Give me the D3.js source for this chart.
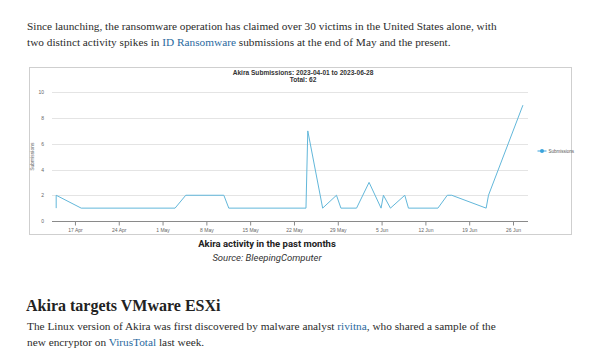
<!DOCTYPE html>
<html>
<head>
<meta charset="utf-8">
<script src="https://cdn.jsdelivr.net/npm/d3@7"></script>
<style>
  body { margin: 0; background: #fff; }
  svg { display: block; }
</style>
</head>
<body>
<svg id="page" width="590" height="355"></svg>
<script>
// submissions per reading (timestamps)
const sampleTimes = ["2023-04-14T00:00", "2023-04-14T00:00", "2023-04-18T00:00", "2023-05-03T00:00",
  "2023-05-04T17:00", "2023-05-10T19:00", "2023-05-11T14:00", "2023-05-23T22:00", "2023-05-24T05:00",
  "2023-05-26T14:00", "2023-05-28T19:00", "2023-05-29T12:00", "2023-06-01T00:00", "2023-06-03T00:00",
  "2023-06-04T22:00", "2023-06-05T07:00", "2023-06-06T10:00", "2023-06-08T17:00", "2023-06-09T07:00",
  "2023-06-14T00:00", "2023-06-15T12:00", "2023-06-16T05:00", "2023-06-21T17:00", "2023-06-22T02:00",
  "2023-06-27T14:00"];
const submissions = [1, 2, 1, 1, 2, 2, 1, 1, 7, 1, 2, 1, 1, 3, 1, 2, 1, 2, 1, 1, 2, 2, 1, 2, 9];
const yTicks = [0, 2, 4, 6, 8, 10];
const seriesName = "Submissions";
const chartTitle = ["Akira Submissions: 2023-04-01 to 2023-06-28", "Total: 62"];

const parseTime = d3.timeParse("%Y-%m-%dT%H:%M");
const data = sampleTimes.map((t, i) => ({ date: parseTime(t), value: submissions[i] }));

const svg = d3.select("#page");
svg.append("rect").attr("width", 590).attr("height", 355).attr("fill", "#fff");

const serif = "Georgia, 'Liberation Serif', serif";
const textColor = "#2b2b2b";
const linkColor = "#2a6aa0";

// article paragraph text
function para(y, parts, size) {
  const t = svg.append("text").attr("x", 27).attr("y", y)
    .style("font-family", serif).style("font-size", size + "px").attr("fill", textColor);
  parts.forEach(p => {
    t.append("tspan").attr("fill", p[1] ? linkColor : textColor).text(p[0]);
  });
}
para(30, [["Since launching, the ransomware operation has claimed over 30 victims in the United States alone, with"]], 11.3);
para(46, [["two distinct activity spikes in "], ["ID Ransomware", true], [" submissions at the end of May and the present."]], 11.3);

// chart frame
svg.append("rect").attr("x", 29.5).attr("y", 67.5).attr("width", 542).attr("height", 167)
  .attr("fill", "#fff").attr("stroke", "#cfcfcf").attr("stroke-width", 1);

const margin = { left: 52, right: 528, top: 92.3, bottom: 221 };

const x = d3.scaleTime()
  .domain([parseTime("2023-04-13T08:00"), parseTime("2023-06-28T09:30")])
  .range([margin.left, margin.right]);
const y = d3.scaleLinear().domain([0, 10]).range([margin.bottom, margin.top]);

// grid
svg.append("g")
  .selectAll("line").data(yTicks).join("line")
  .attr("x1", margin.left).attr("x2", margin.right)
  .attr("y1", d => Math.round(y(d)) + 0.5).attr("y2", d => Math.round(y(d)) + 0.5)
  .attr("stroke", "#e4e4e4");

// y axis labels
const yAxis = d3.axisLeft(y).tickValues(yTicks).tickSize(0).tickPadding(0);
const gy = svg.append("g").attr("transform", `translate(${margin.left - 8},0)`).call(yAxis);
gy.select(".domain").remove();
gy.selectAll("text").style("font-family", "'Liberation Sans', Arial, sans-serif")
  .style("font-size", "5px").attr("fill", "#666");

// x axis
const xAxis = d3.axisBottom(x)
  .ticks(d3.timeMonday.every(1))
  .tickFormat(d3.timeFormat("%-d %b"))
  .tickSize(4).tickPadding(3);
const gx = svg.append("g").attr("transform", `translate(0,${Math.round(y(0)) + 0.5})`).call(xAxis);
gx.select(".domain").attr("stroke", "#8a8a8a").attr("d", `M${margin.left},0H${margin.right}`);
gx.selectAll(".tick line").attr("stroke", "#8a8a8a");
gx.selectAll("text").style("font-family", "'Liberation Sans', Arial, sans-serif")
  .style("font-size", "5px").attr("fill", "#666");

// y label
svg.append("text")
  .attr("transform", `translate(34,${(margin.top + margin.bottom) / 2}) rotate(-90)`)
  .attr("text-anchor", "middle")
  .style("font-family", "'Liberation Sans', Arial, sans-serif").style("font-size", "5px")
  .attr("fill", "#666").text(seriesName);

// line
const line = d3.line().x(d => x(d.date)).y(d => y(d.value));
svg.append("path").datum(data)
  .attr("fill", "none").attr("stroke", "#62b7da").attr("stroke-width", 1)
  .attr("d", line);

// title
svg.append("g").selectAll("text").data(chartTitle).join("text")
  .attr("x", 303).attr("y", (d, i) => 75 + i * 6.8)
  .attr("text-anchor", "middle")
  .style("font-family", "'Liberation Sans', Arial, sans-serif").style("font-size", "6.6px")
  .style("font-weight", "bold").attr("fill", "#333").text(d => d);

// legend
const lg = svg.append("g").attr("transform", "translate(542,151)");
lg.append("line").attr("x1", -4.5).attr("x2", 4.5).attr("stroke", "#3aa3dc").attr("stroke-width", 1);
lg.append("circle").attr("r", 2).attr("fill", "#3aa3dc");
lg.append("text").attr("x", 6.5).attr("y", 1.6)
  .style("font-family", "'Liberation Sans', Arial, sans-serif").style("font-size", "4.5px")
  .attr("fill", "#555").text(seriesName);

// caption
svg.append("text").attr("x", 267).attr("y", 247).attr("text-anchor", "middle")
  .style("font-family", "Roboto, 'Liberation Sans', sans-serif").style("font-size", "9.5px")
  .style("font-weight", "bold").attr("fill", "#222").text("Akira activity in the past months");
svg.append("text").attr("x", 267).attr("y", 261).attr("text-anchor", "middle")
  .style("font-family", "Roboto, 'Liberation Sans', sans-serif").style("font-size", "9.5px")
  .style("font-style", "italic").attr("fill", "#333").text("Source: BleepingComputer");

// heading + paragraph below
svg.append("text").attr("x", 26).attr("y", 311)
  .style("font-family", serif).style("font-size", "16px").style("font-weight", "bold")
  .attr("fill", "#222").text("Akira targets VMware ESXi");
para(330, [["The Linux version of Akira was first discovered by malware analyst "], ["rivitna", true], [", who shared a sample of the"]], 11.3);
para(346, [["new encryptor on "], ["VirusTotal", true], [" last week."]], 11.3);
</script>
</body>
</html>
